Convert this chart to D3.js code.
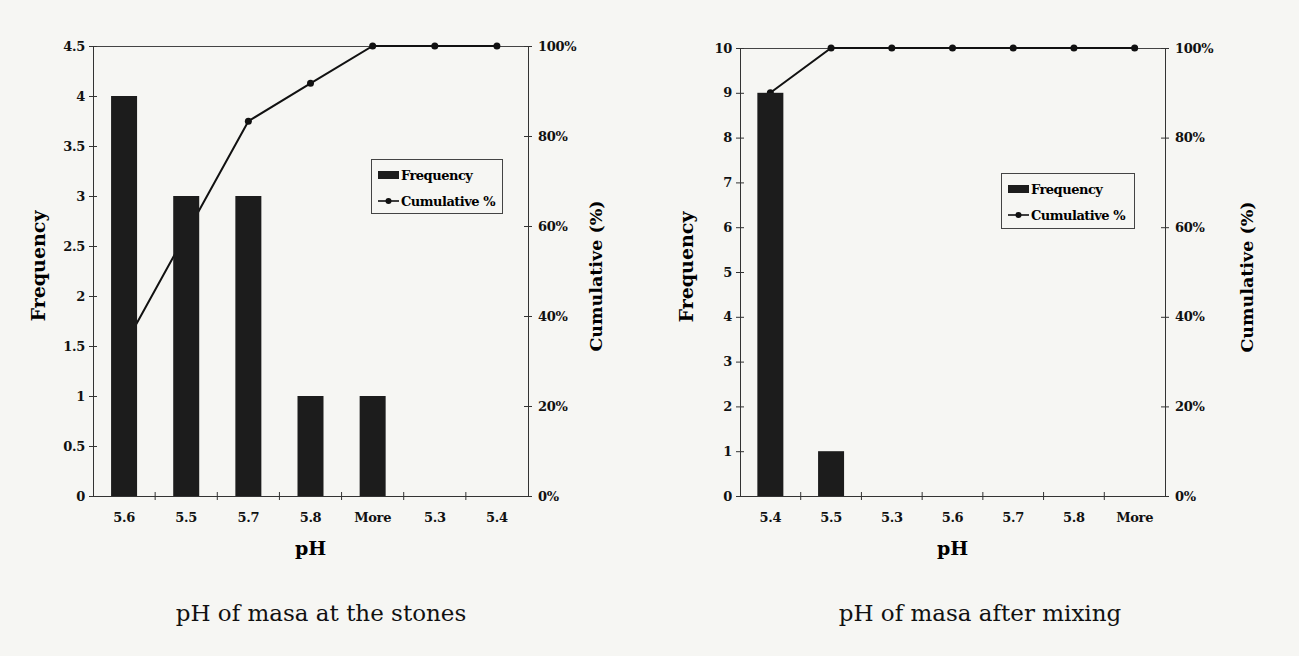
<!DOCTYPE html>
<html>
<head>
<meta charset="utf-8">
<script src="https://cdn.jsdelivr.net/npm/d3@7"></script>
<style>
  html, body { margin: 0; padding: 0; background: #f6f6f3; }
  svg { display: block; }
  .tick text { font-family: "DejaVu Serif", serif; font-weight: bold; font-size: 13px; fill: #111; letter-spacing: -0.3px; }
  .domain, .tick line { stroke: #333; stroke-width: 1; }
</style>
</head>
<body>
<svg id="chart" width="1299" height="656"></svg>
<script>
// pH histogram: masa sampled at the stones
const stonesCategories = ["5.6", "5.5", "5.7", "5.8", "More", "5.3", "5.4"];
const stonesFrequency = [4, 3, 3, 1, 1, 0, 0];
const stonesCumulative = [33.3, 58.3, 83.3, 91.7, 100, 100, 100];
const stonesFreqTicks = [0, 0.5, 1, 1.5, 2, 2.5, 3, 3.5, 4, 4.5];

// pH histogram: masa after mixing
const mixingCategories = ["5.4", "5.5", "5.3", "5.6", "5.7", "5.8", "More"];
const mixingFrequency = [9, 1, 0, 0, 0, 0, 0];
const mixingCumulative = [90, 100, 100, 100, 100, 100, 100];
const mixingFreqTicks = [0, 1, 2, 3, 4, 5, 6, 7, 8, 9, 10];

const percentTicks = [0, 20, 40, 60, 80, 100];

const svg = d3.select("#chart");
const serif = '"DejaVu Serif", serif';

function drawPareto(cfg) {
  const { left, right, top, bottom, categories, freq, cum, freqTicks, freqMax, caption, legend } = cfg;
  const g = svg.append("g");

  const x = d3.scaleBand().domain(categories).range([left, right]).paddingInner(0).paddingOuter(0);
  const y = d3.scaleLinear().domain([0, freqMax]).range([bottom, top]);
  const yPct = d3.scaleLinear().domain([0, 100]).range([bottom, top]);

  // plot area frame (top edge)
  g.append("line").attr("x1", left).attr("x2", right).attr("y1", top + 0.5).attr("y2", top + 0.5)
    .attr("stroke", "#444").attr("stroke-width", 1);

  // cumulative line (sits behind the bars)
  const line = d3.line().x((d, i) => x(categories[i]) + x.bandwidth() / 2).y(d => yPct(d));
  g.append("path").datum(cum).attr("d", line).attr("fill", "none")
    .attr("stroke", "#111").attr("stroke-width", 2);
  g.selectAll("circle.pt").data(cum).join("circle").attr("class", "pt")
    .attr("cx", (d, i) => x(categories[i]) + x.bandwidth() / 2)
    .attr("cy", d => yPct(d)).attr("r", 3.5).attr("fill", "#111");

  // frequency bars
  const barW = 26;
  g.selectAll("rect.bar").data(freq).join("rect").attr("class", "bar")
    .attr("x", (d, i) => x(categories[i]) + x.bandwidth() / 2 - barW / 2)
    .attr("width", barW)
    .attr("y", d => y(d))
    .attr("height", d => bottom - y(d))
    .attr("fill", "#1c1c1c");

  // left frequency axis
  const yAxis = d3.axisLeft(y).tickValues(freqTicks).tickSizeInner(4).tickSizeOuter(0)
    .tickFormat(d => String(d));
  const ga = g.append("g").attr("transform", `translate(${left},0)`).call(yAxis);
  ga.selectAll(".tick line").attr("x2", 4).attr("x1", -4);
  ga.selectAll(".tick text").attr("x", -8);

  // right cumulative axis
  const pAxis = d3.axisRight(yPct).tickValues(percentTicks).tickSizeInner(4).tickSizeOuter(0)
    .tickFormat(d => d + "%");
  const gp = g.append("g").attr("transform", `translate(${right},0)`).call(pAxis);
  gp.selectAll(".tick line").attr("x1", -4).attr("x2", 4);
  gp.selectAll(".tick text").attr("x", 10);

  // bottom category axis: tick marks at category boundaries
  const xAxis = d3.axisBottom(x).tickSize(0).tickSizeOuter(0);
  const gx = g.append("g").attr("transform", `translate(0,${bottom})`).call(xAxis);
  gx.selectAll(".tick text").attr("dy", "1.8em");
  const bounds = categories.slice(1).map(c => x(c));
  gx.selectAll("line.bnd").data(bounds).join("line").attr("class", "bnd")
    .attr("x1", d => d).attr("x2", d => d).attr("y1", -4).attr("y2", 4)
    .attr("stroke", "#333");

  // axis titles
  const midY = (top + bottom) / 2;
  g.append("text").attr("transform", `translate(${cfg.freqTitleX},${midY - 5}) rotate(-90)`)
    .attr("text-anchor", "middle").attr("dominant-baseline", "middle")
    .style("font-family", serif).style("font-weight", "bold").style("font-size", "19px")
    .text("Frequency");
  g.append("text").attr("transform", `translate(${cfg.cumTitleX},${midY + 5}) rotate(-90)`)
    .attr("text-anchor", "middle").attr("dominant-baseline", "middle")
    .style("font-family", serif).style("font-weight", "bold").style("font-size", "17.5px")
    .text("Cumulative (%)");
  g.append("text").attr("x", (left + right) / 2).attr("y", bottom + 59)
    .attr("text-anchor", "middle")
    .style("font-family", serif).style("font-weight", "bold").style("font-size", "19px")
    .text("pH");

  // caption under the chart
  g.append("text").attr("x", cfg.captionX).attr("y", 621)
    .attr("text-anchor", "middle")
    .style("font-family", serif).style("font-size", "23px").style("fill", "#111")
    .text(caption);

  // legend
  const lg = g.append("g").attr("transform", `translate(${legend.x},${legend.y})`);
  lg.append("rect").attr("x", 0.5).attr("y", 0.5).attr("width", legend.w).attr("height", legend.h)
    .attr("fill", "none").attr("stroke", "#444").attr("stroke-width", 1);
  lg.append("rect").attr("x", 7).attr("y", 12).attr("width", 21).attr("height", 8).attr("fill", "#1c1c1c");
  lg.append("line").attr("x1", 7).attr("x2", 28).attr("y1", 42).attr("y2", 42)
    .attr("stroke", "#111").attr("stroke-width", 1.6);
  lg.append("circle").attr("cx", 17.5).attr("cy", 42).attr("r", 3).attr("fill", "#111");
  const legendText = [{ t: "Frequency", y: 21 }, { t: "Cumulative %", y: 47 }];
  lg.selectAll("text").data(legendText).join("text")
    .attr("x", 30).attr("y", d => d.y)
    .style("font-family", serif).style("font-weight", "bold").style("font-size", "13px")
    .style("letter-spacing", "-0.5px")
    .text(d => d.t);
}

drawPareto({
  left: 93, right: 528, top: 46, bottom: 496,
  categories: stonesCategories, freq: stonesFrequency, cum: stonesCumulative,
  freqTicks: stonesFreqTicks, freqMax: 4.5,
  freqTitleX: 40, cumTitleX: 597, captionX: 321,
  caption: "pH of masa at the stones",
  legend: { x: 371, y: 159, w: 131, h: 54 }
});

drawPareto({
  left: 740, right: 1165, top: 48, bottom: 496,
  categories: mixingCategories, freq: mixingFrequency, cum: mixingCumulative,
  freqTicks: mixingFreqTicks, freqMax: 10,
  freqTitleX: 688, cumTitleX: 1248, captionX: 980,
  caption: "pH of masa after mixing",
  legend: { x: 1001, y: 173, w: 133, h: 55 }
});
</script>
</body>
</html>
